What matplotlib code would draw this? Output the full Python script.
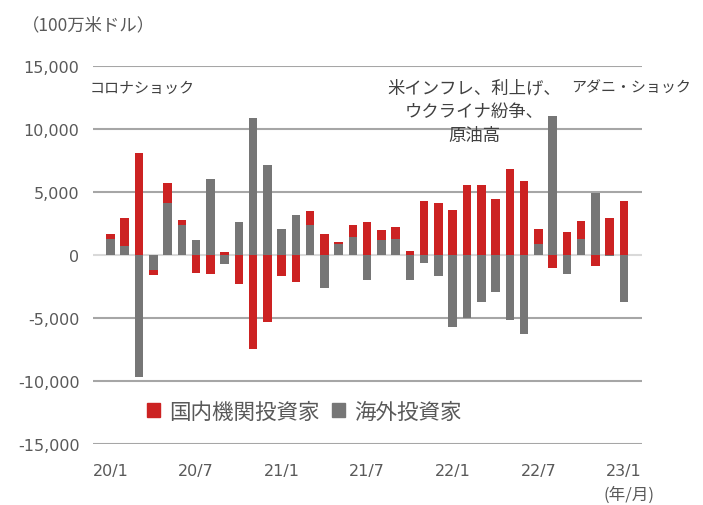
import numpy as np
import matplotlib
matplotlib.use('Agg')
import matplotlib.pyplot as plt
from matplotlib.patches import Patch

plt.rcParams['font.family'] = ['DejaVu Sans', 'Noto Sans CJK JP']

# monthly flows 2020/1 - 2023/1 (million USD)
months = ['20/1', '20/2', '20/3', '20/4', '20/5', '20/6', '20/7', '20/8', '20/9', '20/10', '20/11', '20/12',
          '21/1', '21/2', '21/3', '21/4', '21/5', '21/6', '21/7', '21/8', '21/9', '21/10', '21/11', '21/12',
          '22/1', '22/2', '22/3', '22/4', '22/5', '22/6', '22/7', '22/8', '22/9', '22/10', '22/11', '22/12',
          '23/1']
foreign = [1300, 700, -9700, -1200, 4150, 2400, 1150, 6050, -750, 2600, 10900, 7150,
           2100, 3200, 2400, -2650, 850, 1450, -2000, 1150, 1300, -2000, -600, -1700,
           -5750, -5000, -3750, -2950, -5150, -6250, 850, 11050, -1500, 1300, 4950, -100,
           -3700]
domestic = [350, 2200, 8100, -350, 1600, 350, -1400, -1500, 200, -2300, -7500, -5300,
            -1700, -2150, 1100, 1650, 150, 950, 2600, 800, 950, 350, 4300, 4150,
            3550, 5550, 5550, 4450, 6850, 5900, 1250, -1050, 1800, 1400, -900, 2900,
            4300]
tick_labels = ['20/1', '20/7', '21/1', '21/7', '22/1', '22/7', '23/1']
yticks = [-15000, -10000, -5000, 0, 5000, 10000, 15000]

red = '#cc2222'
gray = '#767676'
txt = '#595959'
note = '#404040'
jp = ['Noto Sans CJK JP', 'DejaVu Sans']

x = np.arange(len(months))
foreign = np.array(foreign)
domestic = np.array(domestic)
# excel-style stacking: red sits on gray only when both have the same sign
bottom = np.where(np.sign(foreign) == np.sign(domestic), foreign, 0)

fig = plt.figure(figsize=(7.03, 5.06), dpi=100)
ax = fig.add_axes([0.132, 0.1206, 0.781, 0.747])

for v in yticks:
    ax.axhline(v, color='#d9d9d9' if v == 0 else '#a6a6a6', lw=1.5, zorder=0)

w = 0.6
ax.bar(x, foreign, width=w, color=gray, zorder=2)
ax.bar(x, domestic, width=w, bottom=bottom, color=red, zorder=2)

ax.set_xlim(-1.24, 37.26)
ax.set_ylim(-15000, 15000)
ax.set_yticks(yticks)
ax.set_yticklabels([f'{v:,}' for v in yticks], fontsize=11.5, color=txt)
ax.set_xticks([months.index(t) for t in tick_labels])
ax.set_xticklabels(tick_labels, fontsize=11.5, color=txt)
ax.tick_params(axis='y', length=0, pad=9.5)
ax.tick_params(axis='x', length=0, pad=14)
for s in ax.spines.values():
    s.set_visible(False)

fig.text(0.031, 0.95, '（100万米ドル）', fontsize=12.5, color=txt, family=jp, va='center')
fig.text(0.859, 0.022, '(年/月)', fontsize=12, color=txt, family=jp, va='center')

# event notes
ax.text(-1.45, 13300, 'コロナショック', fontsize=10.8, color=note, family=jp, va='center')
ax.text(25.53, 14000, '米インフレ、利上げ、\nウクライナ紛争、\n原油高', fontsize=12.5, color=note,
        family=jp, va='top', ha='center', linespacing=1.4)
ax.text(32.33, 13300, 'アダニ・ショック', fontsize=10.8, color=note, family=jp, va='center')

handles = [Patch(color=red), Patch(color=gray)]
leg = ax.legend(handles, ['国内機関投資家', '海外投資家'], loc='center left', bbox_to_anchor=(0.064, 0.085),
                ncol=2, frameon=False, handlelength=0.6, handleheight=0.6,
                handletextpad=0.4, columnspacing=0.6, prop={'family': jp, 'size': 15.5})
for t in leg.get_texts():
    t.set_color(txt)

fig.savefig('out.png', dpi=100)
